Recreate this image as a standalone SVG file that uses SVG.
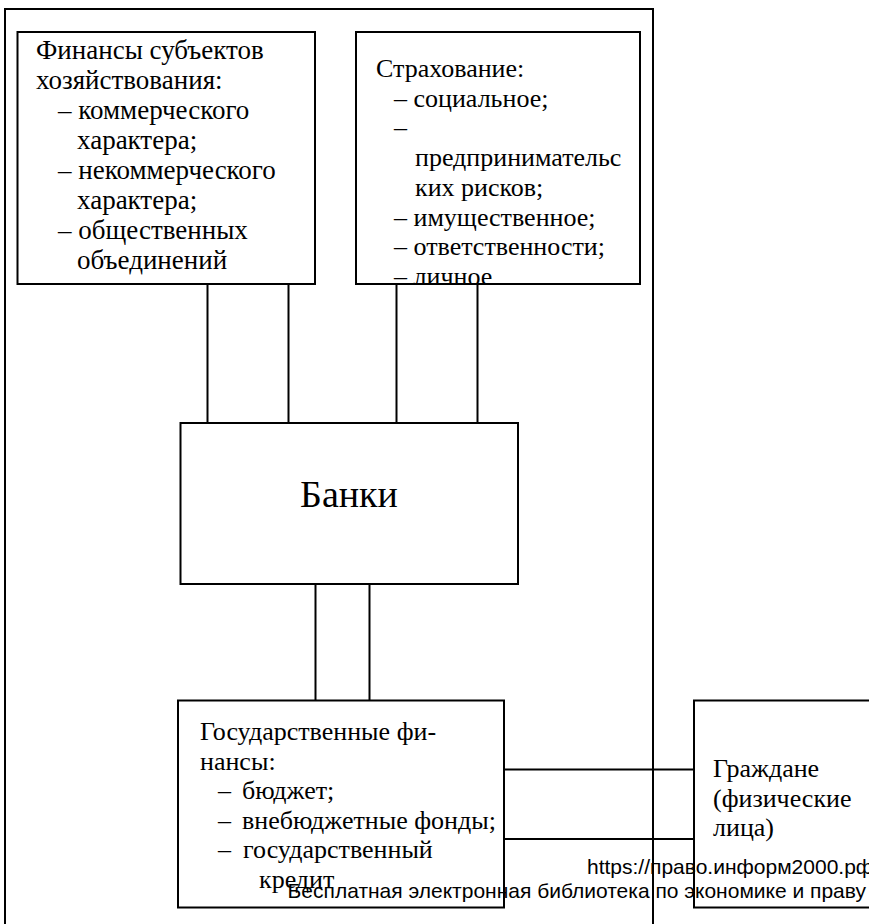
<svg xmlns="http://www.w3.org/2000/svg" width="869" height="924" viewBox="0 0 869 924">
<style>
.box{fill:#fff;stroke:#000;stroke-width:2}
.ln{stroke:#000;stroke-width:2;fill:none}
.t{font-family:"Liberation Serif","Times New Roman",serif;font-size:26px;fill:#000}
.t27{font-size:27px}
.big{font-family:"Liberation Serif","Times New Roman",serif;font-size:38px;fill:#000}
.wm{font-family:"Liberation Sans",Arial,sans-serif;font-size:21px;fill:#000}
</style>
<defs>
<clipPath id="clipIns"><rect x="356" y="32" width="284" height="252"/></clipPath>
</defs>
<rect width="869" height="924" fill="#fff"/>
<g id="frame">
<path class="ln" d="M5,924 V9 H653 V924"/>
</g>
<g id="connectors">
<line class="ln" x1="207.5" y1="284" x2="207.5" y2="423"/>
<line class="ln" x1="288.5" y1="284" x2="288.5" y2="423"/>
<line class="ln" x1="396.5" y1="284" x2="396.5" y2="423"/>
<line class="ln" x1="477.5" y1="284" x2="477.5" y2="423"/>
<line class="ln" x1="315.5" y1="584" x2="315.5" y2="700.5"/>
<line class="ln" x1="369.5" y1="584" x2="369.5" y2="700.5"/>
<line class="ln" x1="504" y1="769.5" x2="694" y2="769.5"/>
<line class="ln" x1="504" y1="839" x2="694" y2="839"/>
</g>
<g id="finances">
<rect class="box" x="17.5" y="32" width="297.5" height="252"/>
<text class="t t27" x="36" y="59">Финансы субъектов</text>
<text class="t t27" x="36" y="89">хозяйствования:</text>
<text class="t t27" x="58" y="119">– коммерческого</text>
<text class="t t27" x="77" y="149">характера;</text>
<text class="t t27" x="58" y="179">– некоммерческого</text>
<text class="t t27" x="77" y="209">характера;</text>
<text class="t t27" x="58" y="239">– общественных</text>
<text class="t t27" x="77" y="269">объединений</text>
</g>
<g id="insurance">
<rect class="box" x="356" y="32" width="284" height="252"/>
<g clip-path="url(#clipIns)">
<text class="t" x="376" y="77">Страхование:</text>
<text class="t" x="394" y="106.7">– социальное;</text>
<text class="t" x="394" y="136.4">–</text>
<text class="t" x="415" y="166.1">предпринимательс</text>
<text class="t" x="415" y="195.8">ких рисков;</text>
<text class="t" x="394" y="225.5">– имущественное;</text>
<text class="t" x="394" y="255.2">– ответственности;</text>
<text class="t" x="394" y="285">– личное</text>
</g>
<rect x="356" y="32" width="284" height="252" fill="none" stroke="#000" stroke-width="2"/>
</g>
<g id="banks">
<rect class="box" x="180.5" y="423" width="337.5" height="161"/>
<text class="big" x="349" y="507" text-anchor="middle">Банки</text>
</g>
<g id="state">
<rect class="box" x="178" y="700.5" width="326" height="207"/>
<text class="t" x="200" y="740">Государственные фи-</text>
<text class="t" x="200" y="769.5">нансы:</text>
<text class="t" y="799"><tspan x="218">–</tspan><tspan x="242">бюджет;</tspan></text>
<text class="t" y="828.5"><tspan x="218">–</tspan><tspan x="242">внебюджетные фонды;</tspan></text>
<text class="t" y="858"><tspan x="218">–</tspan><tspan x="243">государственный</tspan></text>
<text class="t" x="259" y="887.5">кредит</text>
</g>
<g id="citizens">
<rect class="box" x="694" y="700.5" width="190" height="207"/>
<text class="t" x="713" y="777">Граждане</text>
<text class="t" x="713" y="807">(физические</text>
<text class="t" x="713" y="836">лица)</text>
</g>
<g id="watermark">
<text class="wm" x="587" y="874">https://право.информ2000.рф</text>
<text class="wm" x="866" y="898" text-anchor="end">Бесплатная электронная библиотека по экономике и праву</text>
</g>
<path class="ln" d="M653,9 V924"/>
</svg>
